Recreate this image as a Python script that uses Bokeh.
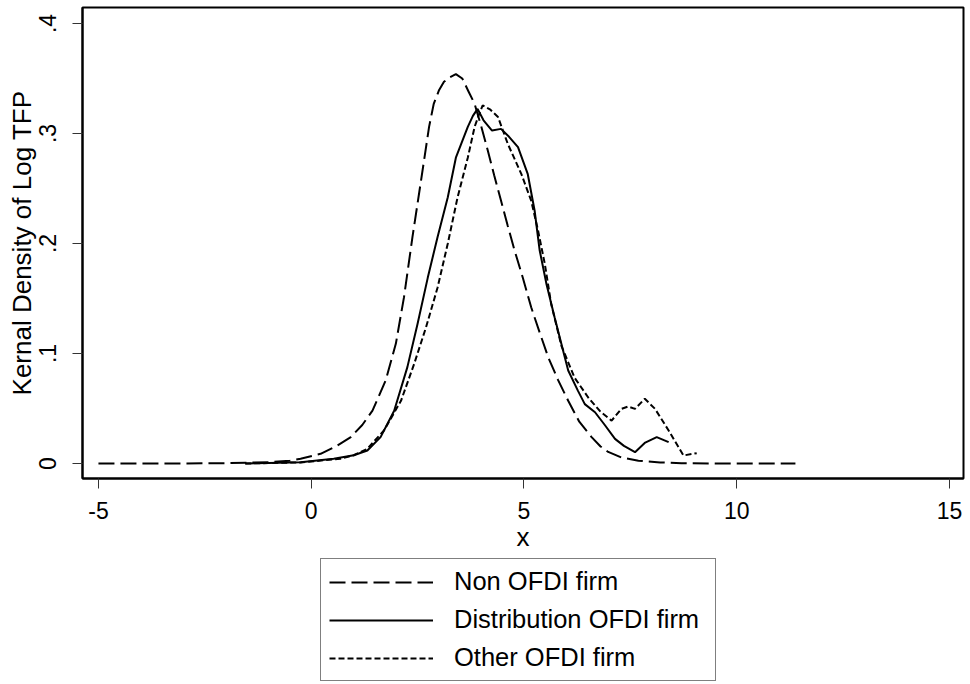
from bokeh.plotting import figure
from bokeh.layouts import column
from bokeh.models import Range1d, FixedTicker, Legend, LegendItem
from bokeh.embed import file_html
from bokeh.resources import INLINE

# ---- data ----
non_x = [-5, -3, -2, -1, -0.5, -0.25, 0.22, 0.6, 0.93, 1.2, 1.44, 1.75, 1.99, 2.18, 2.38,
         2.58, 2.77, 2.88, 3.0, 3.12, 3.25, 3.4, 3.55, 3.7, 3.84, 4.0, 4.15, 4.3, 4.46, 4.62,
         4.78, 4.98, 5.17, 5.37, 5.57, 5.8, 6.04, 6.3, 6.59, 6.8, 6.98, 7.29, 7.69, 8.2, 8.7,
         9.5, 10.5, 11.38]
non_y = [0.0, 0.0, 0.0003, 0.0012, 0.0025, 0.0043, 0.0088, 0.016, 0.024, 0.035, 0.048, 0.0755,
         0.109, 0.151, 0.206, 0.257, 0.306, 0.327, 0.339, 0.347, 0.351, 0.354, 0.350, 0.338,
         0.327, 0.306, 0.2845, 0.262, 0.239, 0.216, 0.1936, 0.168, 0.142, 0.119, 0.0966,
         0.076, 0.057, 0.038, 0.024, 0.0155, 0.0105, 0.0055, 0.0025, 0.001, 0.0003, 0.0, 0.0,
         0.0]

dist_x = [-1.55, -1, -0.25, 0.53, 1.0, 1.32, 1.63, 1.95, 2.26, 2.5, 2.74, 2.97, 3.21, 3.40,
          3.55, 3.68, 3.8, 3.91, 4.05, 4.25, 4.46, 4.65, 4.86, 5.09, 5.25, 5.37, 5.53, 5.72,
          5.96, 6.04, 6.27, 6.43, 6.67, 6.9, 7.14, 7.35, 7.61, 7.85, 8.12, 8.4]
dist_y = [0.0, 0.0005, 0.0012, 0.0043, 0.0075, 0.0118, 0.024, 0.048, 0.0876, 0.127, 0.169,
          0.206, 0.242, 0.278, 0.293, 0.306, 0.316, 0.3224, 0.312, 0.3027, 0.3042, 0.297,
          0.2876, 0.263, 0.23, 0.1936, 0.163, 0.133, 0.0966, 0.0845, 0.066, 0.054, 0.0466,
          0.035, 0.0224, 0.016, 0.0103, 0.019, 0.024, 0.0194]

oth_x = [-1.55, -1, -0.25, 0.69, 1.0, 1.32, 1.71, 2.11, 2.42, 2.70, 2.97, 3.21, 3.44, 3.68,
         3.84, 3.95, 4.03, 4.2, 4.39, 4.62, 4.94, 5.17, 5.33, 5.49, 5.64, 5.88, 6.19, 6.51,
         6.8, 7.06, 7.29, 7.45, 7.61, 7.84, 8.08, 8.4, 8.75, 9.06]
oth_y = [0.0, 0.0004, 0.001, 0.0043, 0.0075, 0.0134, 0.03, 0.057, 0.0906, 0.124, 0.16, 0.2,
         0.242, 0.278, 0.306, 0.318, 0.3255, 0.322, 0.315, 0.2906, 0.263, 0.239, 0.212,
         0.1815, 0.145, 0.107, 0.078, 0.060, 0.047, 0.039, 0.0497, 0.0518, 0.0497, 0.0588,
         0.0497, 0.030, 0.0073, 0.0094]

x_ticks = [-5, 0, 5, 10, 15]
x_tick_labels = ["-5", "0", "5", "10", "15"]
y_ticks = [0, 0.1, 0.2, 0.3, 0.4]
y_tick_labels = ["0", ".1", ".2", ".3", ".4"]
series_names = ["Non OFDI firm", "Distribution OFDI firm", "Other OFDI firm"]

FONT = "Liberation Sans"
STYLES = [dict(line_dash="16 6"), dict(line_dash="solid"), dict(line_dash="6 3")]
XS = [non_x, dist_x, oth_x]
YS = [non_y, dist_y, oth_y]

# ---- main plot ----
p = figure(width=966, height=556, output_backend="svg", toolbar_location=None,
           x_range=Range1d(-5.375, 15.33), y_range=Range1d(-0.01364, 0.41455),
           min_border_left=82, min_border_right=3, min_border_top=7, min_border_bottom=78)

p.grid.visible = False
p.outline_line_color = "black"
p.outline_line_width = 2
p.background_fill_color = "white"
p.border_fill_color = "white"

for xs, ys, st in zip(XS, YS, STYLES):
    p.line(xs, ys, line_color="black", line_width=2, **st)

for ax in (p.xaxis[0], p.yaxis[0]):
    ax.axis_line_color = "black"
    ax.axis_line_width = 2
    ax.major_tick_out = 10
    ax.major_tick_in = 0
    ax.major_tick_line_color = "#333333"
    ax.major_tick_line_width = 1
    ax.minor_tick_line_color = None
    ax.major_label_text_font = FONT
    ax.major_label_text_font_size = "23px"
    ax.major_label_text_color = "black"
    ax.axis_label_text_font = FONT
    ax.axis_label_text_font_size = "26px"
    ax.axis_label_text_font_style = "normal"
    ax.axis_label_text_color = "black"
    ax.axis_label_standoff = 0

p.xaxis.ticker = FixedTicker(ticks=x_ticks)
p.xaxis.major_label_overrides = {t: s for t, s in zip(x_ticks, x_tick_labels)}
p.xaxis.axis_label = "x"
p.xaxis.major_label_standoff = 13

p.yaxis.ticker = FixedTicker(ticks=y_ticks)
p.yaxis.major_label_overrides = {t: s for t, s in zip(y_ticks, y_tick_labels)}
p.yaxis.major_label_orientation = "vertical"
p.yaxis.major_label_standoff = 16
p.yaxis.axis_label = "Kernal Density of Log TFP"

# ---- legend strip below the plot (its lines lie outside its visible range) ----
lg = figure(width=966, height=128, output_backend="svg", toolbar_location=None,
            x_range=Range1d(100, 101), y_range=Range1d(100, 101),
            x_axis_type=None, y_axis_type=None,
            min_border_left=0, min_border_right=0, min_border_top=0, min_border_bottom=0)
lg.grid.visible = False
lg.outline_line_color = None
lg.background_fill_color = "white"
lg.border_fill_color = "white"

items = []
for name, xs, ys, st in zip(series_names, XS, YS, STYLES):
    r = lg.line(xs, ys, line_color="black", line_width=2, **st)
    items.append(LegendItem(label=name, renderers=[r]))

legend = Legend(items=items, location=(238, 3), orientation="vertical",
                label_text_font=FONT, label_text_font_size="25.5px", label_text_color="black",
                padding=8, spacing=9, glyph_width=104, glyph_height=20, label_standoff=21,
                label_width=253, border_line_color="black", border_line_width=1,
                background_fill_color="white", background_fill_alpha=1.0, margin=0)
lg.add_layout(legend, "center")

layout = column(p, lg, spacing=0)
open("out.html", "w").write(file_html(layout, INLINE))
